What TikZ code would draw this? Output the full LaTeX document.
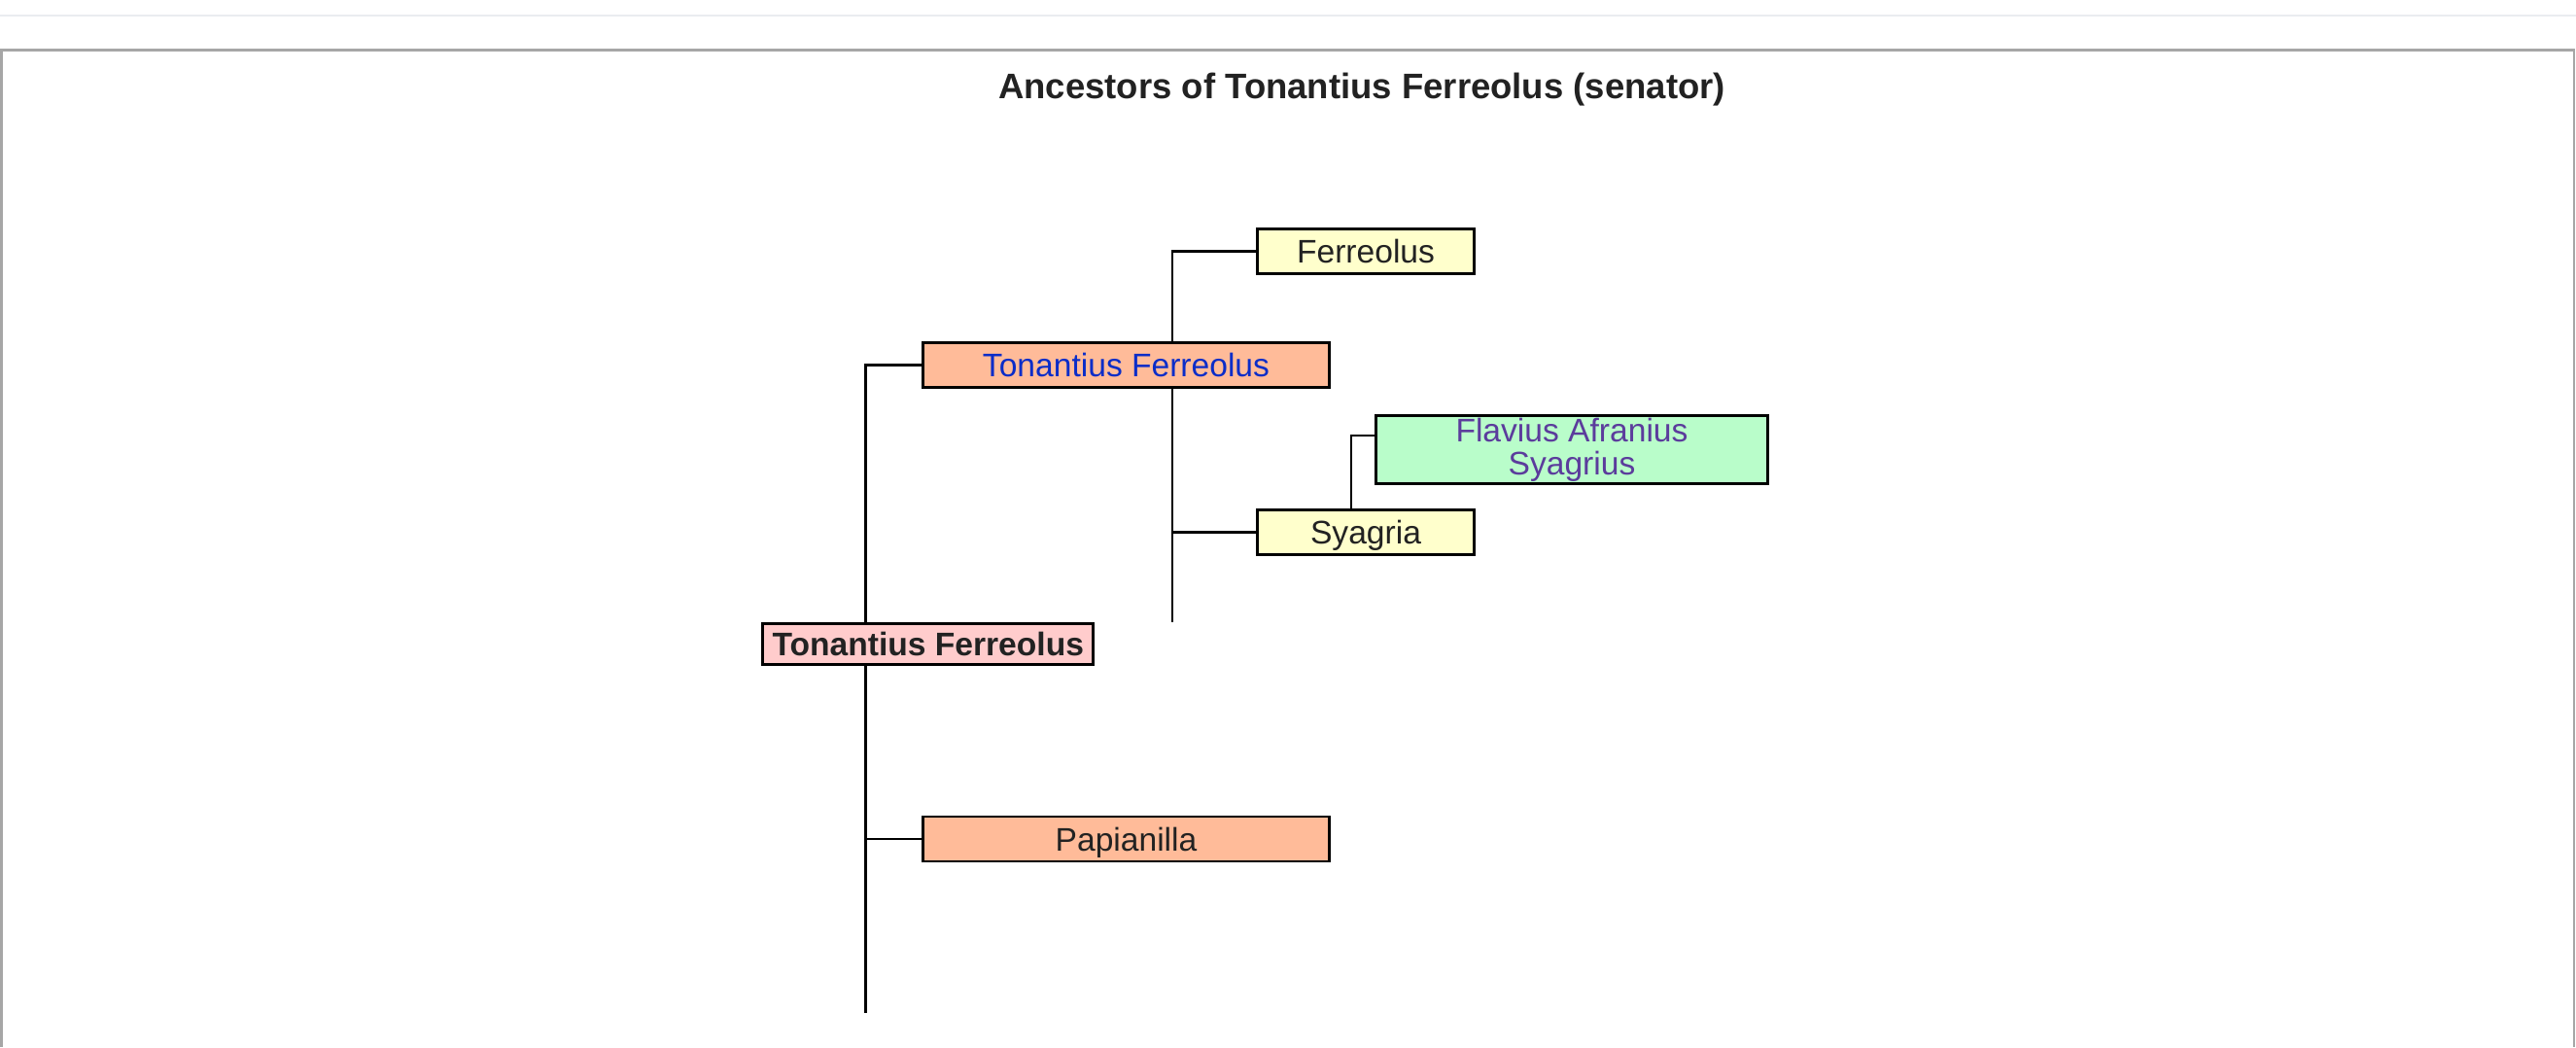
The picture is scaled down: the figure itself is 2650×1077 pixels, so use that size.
\documentclass[tikz,border=0pt]{standalone}
\usepackage{fontspec}
\setmainfont{Liberation Sans}
\usetikzlibrary{positioning,backgrounds}

\definecolor{framegray}{HTML}{A6A6A6}
\definecolor{rulegray}{HTML}{EAECF0}
\definecolor{subjpink}{HTML}{FFCCCC}
\definecolor{parentsalmon}{HTML}{FFBB99}
\definecolor{grandyellow}{HTML}{FFFFCC}
\definecolor{greatgreen}{HTML}{B9FDCA}
\definecolor{linkblue}{HTML}{0B2DC8}
\definecolor{linkvisited}{HTML}{5B3C9C}
\definecolor{textdark}{HTML}{222222}

\begin{document}
\begin{tikzpicture}[x=0.5pt,y=-0.5pt,
  tree/.style={draw=black,line width=1.15pt},
  box base/.style={draw=black,line width=1.4pt,inner sep=0pt,text=textdark,
    font=\fontsize{16.8}{17}\selectfont},
  one line/.style={box base,text height=12pt,text depth=0pt},
  subject/.style={one line,fill=subjpink,font=\bfseries\fontsize{16.8}{17}\selectfont,
    minimum width=170pt,minimum height=21.2pt},
  parent/.style={one line,fill=parentsalmon,minimum width=209.2pt,minimum height=23pt},
  grandparent/.style={one line,fill=grandyellow,minimum width=111.2pt,minimum height=23pt},
  great grandparent/.style={box base,fill=greatgreen,align=center,
    minimum width=201.2pt,minimum height=35.2pt}]

  \useasboundingbox (0,0) rectangle (2650,1077);
  \draw[rulegray,line width=1pt] (0,16) -- (2650,16);
  \draw[framegray,line width=1.3pt] (1.3,1077) -- (1.3,51.5) -- (2647.8,51.5) -- (2647.8,1077);

  \node[anchor=base,text=textdark,font=\bfseries\fontsize{18.25}{20}\selectfont] (title)
    at (1401,101.5) {Ancestors of Tonantius Ferreolus (senator)};

  \node[subject] (self) at (954.75,662.5) {Tonantius Ferreolus};
  \node[parent,text=linkblue] (father) at (1158.5,375.5) {Tonantius Ferreolus};
  \node[parent] (mother) at (1158.5,863) {Papianilla};
  \node[grandparent] (patgf) at (1405,258.5) {Ferreolus};
  \node[grandparent] (patgm) at (1405,547.5) {Syagria};
  \node[great grandparent,text=linkvisited] (patgmf) at (1617,462.5) {Flavius Afranius\\Syagrius};

  \coordinate (selfend) at (890.6,1041.7);
  \coordinate (fatherend) at (1206,640);

  \begin{pgfonlayer}{background}
    \draw[tree] (father.west) -| (selfend);
    \draw[tree] (mother.west) -- (mother.west -| selfend);
    \draw[tree] (patgf.west) -| (fatherend);
    \draw[tree] (patgm.west) -- (patgm.west -| fatherend);
    \draw[tree] ([yshift=7.25pt]patgmf.west) -| ([xshift=-7.5pt]patgm.north);
  \end{pgfonlayer}
\end{tikzpicture}
\end{document}
